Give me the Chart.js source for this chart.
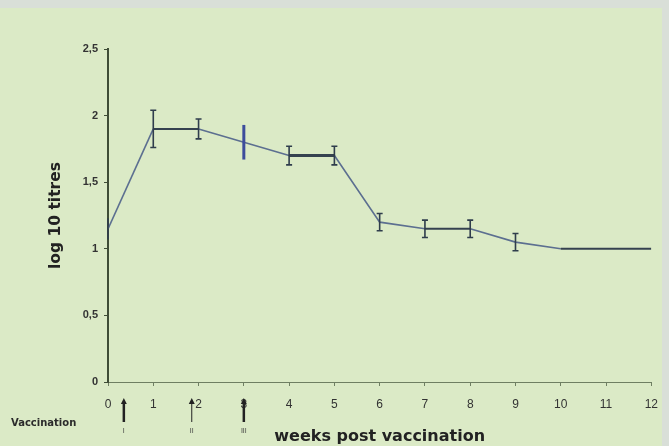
<!DOCTYPE html>
<html>
<head>
<meta charset="utf-8">
<script src="https://cdn.jsdelivr.net/npm/chart.js@4/dist/chart.umd.min.js"></script>
<style>
  html, body { margin: 0; padding: 0; background: #d9dfd8; }
  #wrap { width: 669px; height: 446px; position: relative; }
</style>
</head>
<body>
<div id="wrap"><canvas id="c" width="669" height="446"></canvas></div>
<script>
// Weeks after the first dose and mean log10 antibody titres with error half-widths
const weeks = [0, 1, 2, 3, 4, 5, 6, 7, 8, 9, 10, 11, 12];
const titres = [1.15, 1.9, 1.9, 1.8, 1.7, 1.7, 1.2, 1.15, 1.15, 1.05, 1.0, 1.0, 1.0];
const errors = [0.08, 0.14, 0.075, 0.13, 0.07, 0.07, 0.065, 0.065, 0.065, 0.065, 0, 0, 0];
const yTickLabels = ['0', '0,5', '1', '1,5', '2', '2,5'];
const xTickLabels = ['0', '1', '2', '3', '4', '5', '6', '7', '8', '9', '10', '11', '12'];
// Vaccination doses: week and dose label
const doseWeeks = [0.35, 1.85, 3];
const doseLabels = ['I', 'II', 'III'];
const doseBold = [true, false, true];

const bgPlugin = {
  id: 'bg',
  beforeDraw(chart) {
    const ctx = chart.ctx;
    ctx.save();
    ctx.fillStyle = '#d9dfd8';
    ctx.fillRect(0, 0, chart.width, chart.height);
    ctx.fillStyle = '#dbeac6';
    ctx.fillRect(0, 8, 662, chart.height - 8);
    ctx.restore();
  }
};

const errorBars = {
  id: 'errorBars',
  afterDatasetsDraw(chart) {
    const ctx = chart.ctx;
    const xs = chart.scales.x, ys = chart.scales.y;
    ctx.save();
    weeks.forEach((w, i) => {
      const e = errors[i];
      if (!e) return;
      const x = xs.getPixelForValue(w);
      const yt = ys.getPixelForValue(titres[i] + e);
      const yb = ys.getPixelForValue(titres[i] - e);
      const blue = i === 3;
      ctx.strokeStyle = blue ? '#3d4d9c' : '#2f3d4c';
      ctx.lineWidth = blue ? 3 : 1.6;
      ctx.beginPath();
      ctx.moveTo(x, yt); ctx.lineTo(x, yb);
      if (!blue && i !== 0) {
        ctx.moveTo(x - 3, yt); ctx.lineTo(x + 3, yt);
        ctx.moveTo(x - 3, yb); ctx.lineTo(x + 3, yb);
      }
      ctx.stroke();
    });
    ctx.restore();
  }
};

const doses = {
  id: 'doses',
  afterDraw(chart) {
    const ctx = chart.ctx;
    const xs = chart.scales.x;
    ctx.save();
    ctx.fillStyle = '#2b2b2b';
    ctx.font = 'bold 10px "DejaVu Sans", sans-serif';
    ctx.textBaseline = 'middle';
    ctx.textAlign = 'left';
    ctx.fillText('Vaccination', 11, 423);
    doseWeeks.forEach((w, i) => {
      const x = xs.getPixelForValue(w);
      const bold = doseBold[i];
      ctx.strokeStyle = '#222';
      ctx.lineWidth = bold ? 2.5 : 1;
      ctx.beginPath();
      ctx.moveTo(x, 422);
      ctx.lineTo(x, 402);
      ctx.stroke();
      ctx.beginPath();
      ctx.moveTo(x - 3, 404);
      ctx.lineTo(x, 398);
      ctx.lineTo(x + 3, 404);
      ctx.closePath();
      ctx.fillStyle = '#222';
      ctx.fill();
      ctx.font = '7px "Liberation Sans", Arial, sans-serif';
      ctx.textAlign = 'center';
      ctx.fillStyle = '#444';
      ctx.fillText(doseLabels[i], x, 431);
    });
    ctx.restore();
  }
};

const darkSegments = new Set([1, 4, 7, 10, 11]);

new Chart(document.getElementById('c'), {
  type: 'line',
  data: {
    datasets: [{
      data: weeks.map((w, i) => ({ x: w, y: titres[i] })),
      borderColor: '#5c6f90',
      borderWidth: 1.6,
      pointRadius: 0,
      tension: 0,
      segment: {
        borderColor: ctx => darkSegments.has(ctx.p0DataIndex) ? '#35424f' : '#5c6f90',
        borderWidth: ctx => ctx.p0DataIndex === 4 ? 3 : (darkSegments.has(ctx.p0DataIndex) ? 2 : 1.6)
      }
    }]
  },
  options: {
    responsive: false,
    animation: false,
    events: [],
    layout: { padding: { left: 0, right: 17, top: 49, bottom: 0 } },
    plugins: { legend: { display: false }, tooltip: { enabled: false } },
    scales: {
      x: {
        type: 'linear',
        min: 0,
        max: 12,
        afterFit(scale) { scale.height = 64; },
        border: { color: '#6f7f62', width: 1 },
        grid: { display: true, drawOnChartArea: false, color: '#6f7f62', tickLength: 4 },
        ticks: {
          stepSize: 1,
          padding: 11,
          color: '#333',
          font: { family: '"Liberation Sans", Arial, sans-serif', size: 12 },
          callback: (v) => xTickLabels[v] ?? ''
        },
        title: {
          display: true,
          text: 'weeks post vaccination',
          color: '#222',
          font: { family: '"DejaVu Sans", sans-serif', size: 16, weight: 'bold' },
          padding: { top: 0, bottom: 0 }
        }
      },
      y: {
        min: 0,
        max: 2.5,
        afterFit(scale) { scale.width = 108; },
        border: { color: '#3f4d36', width: 2 },
        grid: { display: true, drawOnChartArea: false, color: '#3f4d36', tickLength: 4 },
        ticks: {
          stepSize: 0.5,
          padding: 6,
          color: '#333',
          font: { family: '"Liberation Sans", Arial, sans-serif', size: 11, weight: 'bold' },
          callback: (v) => yTickLabels[Math.round(v * 2)] ?? ''
        },
        title: {
          display: true,
          text: 'log 10 titres',
          color: '#222',
          font: { family: '"DejaVu Sans", sans-serif', size: 15.5, weight: 'bold' },
          padding: { top: 47, bottom: 0 }
        }
      }
    }
  },
  plugins: [bgPlugin, errorBars, doses]
});
</script>
</body>
</html>
